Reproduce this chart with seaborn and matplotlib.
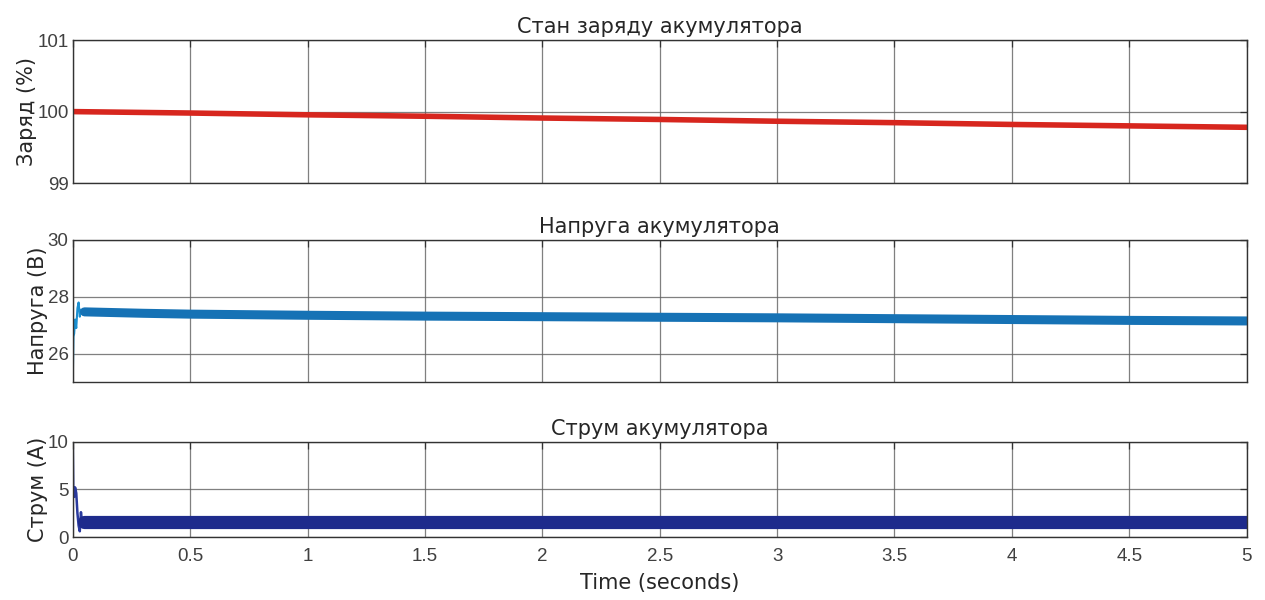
import matplotlib
matplotlib.use("Agg")
import matplotlib.pyplot as plt
import seaborn as sns
import pandas as pd

# ---------------- data ----------------
soc_t = [0.0, 0.5, 1.0, 1.5, 2.0, 2.5, 3.0, 3.5, 4.0, 4.5, 5.0]
soc_v = [100.0, 99.98, 99.955, 99.935, 99.91, 99.89, 99.865, 99.845, 99.82, 99.80, 99.78]

volt_tr_t = [0.0, 0.003, 0.006, 0.01, 0.015, 0.02, 0.025, 0.03, 0.035, 0.04, 0.05]
volt_tr_v = [25.0, 26.6, 26.7, 27.2, 26.9, 27.6, 27.8, 27.3, 27.55, 27.45, 27.47]
volt_t = [0.05, 0.3, 0.5, 1.0, 1.5, 2.0, 2.5, 3.0, 3.5, 4.0, 4.5, 5.0]
volt_v = [27.47, 27.42, 27.39, 27.35, 27.32, 27.30, 27.28, 27.26, 27.23, 27.20, 27.17, 27.15]

cur_tr_t = [0.0, 0.002, 0.006, 0.01, 0.015, 0.02, 0.025, 0.03, 0.035, 0.04, 0.045, 0.05]
cur_tr_v = [10.0, 5.3, 4.2, 5.2, 4.6, 2.5, 1.2, 0.6, 2.6, 1.4, 2.0, 1.6]
cur_t = [0.05, 0.5, 1.0, 1.5, 2.0, 2.5, 3.0, 3.5, 4.0, 4.5, 5.0]
cur_v = [1.6, 1.6, 1.6, 1.6, 1.6, 1.6, 1.6, 1.6, 1.6, 1.6, 1.6]

x_ticks = [0, 0.5, 1, 1.5, 2, 2.5, 3, 3.5, 4, 4.5, 5]
x_tick_labels = ["0", "0.5", "1", "1.5", "2", "2.5", "3", "3.5", "4", "4.5", "5"]

titles = ["Стан заряду акумулятора", "Напруга акумулятора", "Струм акумулятора"]
ylabels = ["Заряд (%)", "Напруга (В)", "Струм (А)"]
ylims = [(99, 101), (25, 30), (0, 10)]
yticks = [[99, 100, 101], [26, 28, 30], [0, 5, 10]]

# ---------------- figure ----------------
sns.set_theme(style="white")
plt.rcParams["font.family"] = ["Liberation Sans", "DejaVu Sans"]
label_font = ["DejaVu Sans"]

fig = plt.figure(figsize=(12.65, 6.0), dpi=100)
left, width = 0.0575, 0.928
ax1 = fig.add_axes([left, 0.695, width, 0.238])
ax2 = fig.add_axes([left, 0.3633, width, 0.2367])
ax3 = fig.add_axes([left, 0.105, width, 0.159])
axes = [ax1, ax2, ax3]

sns.lineplot(x=soc_t, y=soc_v, ax=ax1, color="#d7261e", linewidth=4.0)

sns.lineplot(x=volt_tr_t, y=volt_tr_v, ax=ax2, color="#1a8fd0", linewidth=1.5)
sns.lineplot(x=volt_t, y=volt_v, ax=ax2, color="#1672b5", linewidth=6.5)

sns.lineplot(x=cur_tr_t, y=cur_tr_v, ax=ax3, color="#2a3a9e", linewidth=1.8)
sns.lineplot(x=cur_t, y=cur_v, ax=ax3, color="#1e2b8c", linewidth=9.5)

txt = "#262626"
for i, ax in enumerate(axes):
    ax.set_xlim(0, 5)
    ax.set_ylim(*ylims[i])
    ax.set_xticks(x_ticks)
    ax.set_yticks(yticks[i])
    ax.grid(True, color="#606060", linewidth=0.9, alpha=0.8)
    ax.set_axisbelow(True)
    ax.set_title(titles[i], fontsize=15, pad=5, color=txt, family=label_font)
    ax.set_ylabel(ylabels[i], fontsize=15, labelpad=0, color=txt, family=label_font)
    ax.tick_params(direction="in", length=5, width=0.9, colors="#333333",
                   labelsize=13.5, top=True, right=True, pad=3)
    ax.tick_params(axis="y", labelcolor="#404040")
    ax.tick_params(axis="x", pad=8, labelcolor="#404040")
    for s in ax.spines.values():
        s.set_color("#333333")
        s.set_linewidth(1.0)
    if i < 2:
        ax.set_xticklabels([])
    else:
        ax.set_xticklabels(x_tick_labels)
        ax.set_xlabel("Time (seconds)", fontsize=15, labelpad=6, color=txt, family=label_font)

fig.savefig("out.png", dpi=100, facecolor="white")
